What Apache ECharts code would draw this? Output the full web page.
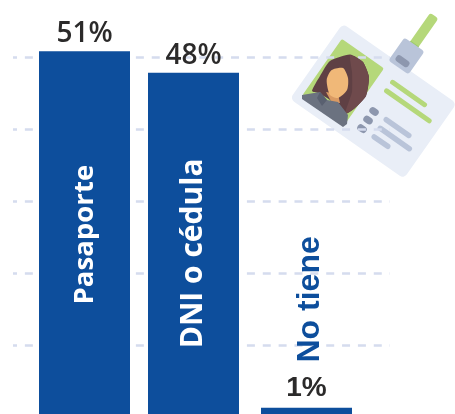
<!DOCTYPE html>
<html><head><meta charset="utf-8">
<style>html,body{margin:0;padding:0;background:#fff}#c{width:455px;height:414px}</style>
<script src="https://cdn.jsdelivr.net/npm/echarts@6/dist/echarts.min.js"></script>
</head><body><div id="c"></div>
<script>
const categories = ['Pasaporte', 'DNI o cédula', 'No tiene'];
const values = [51, 48, 1];
const gridTicks = [10, 20, 30, 40, 50];

const BLUE = '#0d4e9c', INK = '#2b2a2a', DASH = '#d5dcee';
const innerFonts = [
  {position:'inside', color:'#fff', fontFamily:'Open Sans', fontSize:27.6, fontWeight:700, offset:[-1.5,0.5]},
  {position:'inside', color:'#fff', fontFamily:'Open Sans', fontSize:30, fontWeight:700, offset:[-9.5,0]},
  {position:'top', color:BLUE, fontFamily:'Liberation Sans', fontSize:32, fontWeight:'bold', offset:[103.5,4]}
];
const topFonts = [
  {fontFamily:'Open Sans', fontWeight:600, fontSize:28, distance:3},
  {fontFamily:'Open Sans', fontWeight:600, fontSize:28, distance:3},
  {fontFamily:'Liberation Sans', fontWeight:'bold', fontSize:28, distance:6}
];

function barSeries(show, gi) {
  return [{
    type:'bar', xAxisIndex:gi, yAxisIndex:gi, barWidth:91, clip:false, z:3,
    itemStyle:{color:BLUE},
    data: values.map((v,i)=> show(i) ? {value:v, label:{show:true, position:'top', formatter:v+'%',
      color:INK, ...topFonts[i]}} : null)
  },{
    type:'bar', xAxisIndex:gi, yAxisIndex:gi, barWidth:91, barGap:'-100%', clip:false, z:4,
    itemStyle:{color:'transparent'},
    data: values.map((v,i)=> show(i) ? {value:v, label:{show:true, rotate:90, overflow:'none',
      formatter:categories[i], align:'center', verticalAlign:'middle', ...innerFonts[i]}} : null)
  }];
}
function xA(gi){return {type:'category', gridIndex:gi, data:categories, show:false, axisTick:{show:false}};}
function yA(gi){return {type:'value', gridIndex:gi, min:0, max:60, interval:10, show:false, splitLine:{show:false}};}

const L = (u,v,w,h,fill,r)=>({type:'rect', shape:{x:u,y:v,width:w,height:h,r:r==null?Math.min(w,h)/2:r}, style:{fill}});
const GREEN='#b5d87a', GREY='#b9c4d9', DGREY='#8d97ae';
const card = {
  type:'group', x:343, y:25, rotation:-35*Math.PI/180, z:10, children:[
    L(64.5,-60,10,42,GREEN,3),
    L(64.5,-26,10,7,'#9ccc6a',0),
    L(-1,-1,139,92,'#e9eef7',5),
    L(57.5,-25,24.5,28,GREY,3),
    L(62,-8,15,7,DGREY,3),
    L(7,12,51.5,69,GREEN,2),
    L(71,16,44,5,GREEN),
    L(71,26.5,57,5,GREEN),
    L(70,49.5,10,7,DGREY),
    L(70,60,10,7,DGREY),
    L(70,70.5,10,7,DGREY),
    L(87,50,33,5.5,GREY),
    L(87,60.5,41,5.5,GREY),
    L(87,71,22,5.5,GREY)
  ]
};
const poly=(points,fill,smooth)=>({type:'polygon', z:11, shape:{points,smooth:smooth||0}, style:{fill}});
const person=[
  poly([[312,91],[320,76],[330,61],[350,54.5],[363,62],[369,77],[366,96],[355,108],[345,114],[330,100],[318,93]],'#5f4044',0.2),
  poly([[350,55],[363,62],[369,77],[366,96],[355,108],[345,114],[352,92],[352,72]],'#6f4a4c',0.15),
  poly([[326,92],[338,94],[340,103],[332,103]],'#d99a63'),
  poly([[326.7,80],[331.7,70],[343,68],[348,78],[347,90],[338,98],[330,95]],'#f0b878',0.25),
  poly([[302,95],[320,92],[327,100],[338,102],[348,115],[347,124],[343,127],[302,99]],'#6b7280'),
  poly([[320,92],[327,100],[322,106],[317,98]],'#596070')
];

const chart = echarts.init(document.getElementById('c'), null, {renderer:'canvas'});
chart.setOption({
  animation:false,
  backgroundColor:'#fff',
  grid:[
    {left:29, width:333, top:-12.8, height:427.8, outerBoundsMode:'none'},
    {left:27, width:333, top:-12.8, height:427.8, outerBoundsMode:'none'},
    {left:13, width:377, top:57.7, height:360, outerBoundsMode:'none'}
  ],
  xAxis:[xA(0), xA(1), {type:'value', gridIndex:2, show:false, min:0, max:1, splitLine:{show:false}}],
  yAxis:[yA(0), yA(1), {
    type:'value', gridIndex:2, min:0, max:Math.max(...gridTicks), interval:10,
    axisLine:{show:false}, axisTick:{show:false}, axisLabel:{show:false}, z:0,
    splitLine:{show:true, lineStyle:{color:DASH, width:2.5, type:[8,7.86], dashOffset:4}}
  }],
  series:[...barSeries(i=>i!==1,0), ...barSeries(i=>i===1,1)],
  graphic:[card, ...person]
});
</script></body></html>
